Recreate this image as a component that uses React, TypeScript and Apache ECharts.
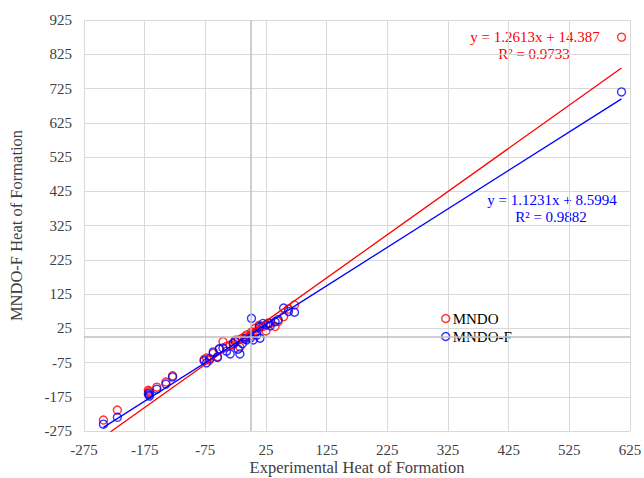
import React, { useEffect, useRef } from "react";
import * as echarts from "echarts";

// Experimental heat of formation (x) for each molecule
const experimental = [
  -243, -220, -169, -168, -167, -155, -140, -129,
  -77, -73, -68, -62, -55, -52, -46, -40, -34, -29, -26, -21, -18, -14, -10, -7, -1,
  1, 4, 7, 10, 14, 15, 20, 25, 29, 32, 40, 45, 54, 62, 72, 611,
];
// MNDO computed heat of formation
const mndo = [
  -243, -214, -156, -160, -164, -147, -132, -114,
  -66, -62, -68, -48, -58, -36, -14, -28, -24, -24, -10, -9, -30, -4, 0, 5, 3,
  14, 13, 25, 15, 34, 28, 30, 17, 40, 39, 30, 45, 59, 81, 93, 875,
];
// MNDO-F computed heat of formation
const mndoF = [
  -255, -235, -166, -170, -173, -153, -138, -117,
  -70, -76, -64, -44, -60, -35, -33, -42, -50, -19, -14, -36, -50, -20, -6, -9, -4,
  54, -9, 10, 5, 30, -4, 39, 35, 39, 32, 44, 50, 84, 74, 72, 715,
];

// Linear trendlines (as printed on the chart)
const fitMNDO = { slope: 1.2613, intercept: 14.387 };
const fitMNDOF = { slope: 1.1231, intercept: 8.5994 };

const eqMNDO = ["y = 1.2613x + 14.387", "R² = 0.9733"];
const eqMNDOF = ["y = 1.1231x + 8.5994", "R² = 0.9882"];

const FONT = "'Liberation Serif', 'Times New Roman', serif";

export default function App() {
  const ref = useRef<HTMLDivElement>(null);

  useEffect(() => {
    if (!ref.current) return;
    const chart = echarts.init(ref.current, null, { renderer: "svg" });

    const xMin = Math.min(...experimental);
    const xMax = Math.max(...experimental);
    const line = (f: { slope: number; intercept: number }) => [
      [xMin, f.slope * xMin + f.intercept],
      [xMax, f.slope * xMax + f.intercept],
    ];

    const scatterItem = (c: string) => ({
      color: "rgba(0,0,0,0)",
      borderColor: c,
      borderWidth: 1.4,
    });

    const axisText = { fontFamily: FONT, fontSize: 15, color: "#404040" };

    chart.setOption({
      animation: false,
      backgroundColor: "#ffffff",
      grid: {
        left: 84,
        right: 14,
        top: 20,
        bottom: 47,
        containLabel: false,
        outerBoundsMode: "none",
      },
      xAxis: {
        type: "value",
        min: -275,
        max: 625,
        interval: 100,
        name: "Experimental Heat of Formation",
        nameLocation: "middle",
        nameGap: 28,
        nameMoveOverlap: false,
        nameTextStyle: { fontFamily: FONT, fontSize: 16.5, color: "#404040" },
        axisLine: { show: false },
        axisTick: { show: false },
        axisLabel: { ...axisText, margin: 11 },
        splitLine: { show: true, lineStyle: { color: "#d9d9d9", width: 1 } },
      },
      yAxis: {
        type: "value",
        min: -275,
        max: 925,
        interval: 100,
        name: "MNDO-F Heat of Formation",
        nameLocation: "middle",
        nameGap: 59,
        nameMoveOverlap: false,
        nameTextStyle: { fontFamily: FONT, fontSize: 16.5, color: "#404040" },
        axisLine: { show: false },
        axisTick: { show: false },
        axisLabel: { ...axisText, margin: 12 },
        splitLine: { show: true, lineStyle: { color: "#d9d9d9", width: 1 } },
      },
      legend: {
        orient: "vertical",
        left: 441,
        top: 311,
        padding: 0,
        itemGap: 3,
        itemWidth: 8,
        itemHeight: 8,
        itemStyle: { borderWidth: 1.4 },
        textStyle: { fontFamily: FONT, fontSize: 15, color: "#000000", padding: [0, 0, 0, -2] },
        data: ["MNDO", "MNDO-F"],
      },
      graphic: [
        {
          type: "text",
          style: { text: eqMNDO[0], x: 535, y: 37, textAlign: "center", textVerticalAlign: "middle", fill: "#ff0000", font: `15px ${FONT}` },
        },
        {
          type: "text",
          style: { text: eqMNDO[1], x: 534, y: 54, textAlign: "center", textVerticalAlign: "middle", fill: "#ff0000", font: `15px ${FONT}` },
        },
        {
          type: "text",
          style: { text: eqMNDOF[0], x: 552, y: 200, textAlign: "center", textVerticalAlign: "middle", fill: "#0000ff", font: `15px ${FONT}` },
        },
        {
          type: "text",
          style: { text: eqMNDOF[1], x: 551, y: 217, textAlign: "center", textVerticalAlign: "middle", fill: "#0000ff", font: `15px ${FONT}` },
        },
      ],
      series: [
        {
          name: "zero",
          type: "line",
          data: [],
          silent: true,
          markLine: {
            silent: true,
            symbol: ["none", "none"],
            label: { show: false },
            lineStyle: { color: "#bfbfbf", width: 1.5, type: "solid" },
            data: [{ xAxis: 0 }, { yAxis: 0 }],
          },
        },
        {
          name: "MNDO",
          type: "scatter",
          symbol: "circle",
          symbolSize: 8,
          itemStyle: scatterItem("#ff0000"),
          data: experimental.map((x, i) => [x, mndo[i]]),
        },
        {
          name: "MNDO-F",
          type: "scatter",
          symbol: "circle",
          symbolSize: 8,
          itemStyle: scatterItem("#0000ff"),
          data: experimental.map((x, i) => [x, mndoF[i]]),
        },
        {
          name: "MNDO fit",
          type: "line",
          showSymbol: false,
          symbol: "none",
          clip: true,
          lineStyle: { color: "#ff0000", width: 1.3 },
          data: line(fitMNDO),
        },
        {
          name: "MNDO-F fit",
          type: "line",
          showSymbol: false,
          symbol: "none",
          clip: true,
          lineStyle: { color: "#0000ff", width: 1.3 },
          data: line(fitMNDOF),
        },
      ],
    });

    return () => chart.dispose();
  }, []);

  return (
    <div
      ref={ref}
      style={{ position: "fixed", left: 0, top: 0, width: 644, height: 478, background: "#fff" }}
    />
  );
}
